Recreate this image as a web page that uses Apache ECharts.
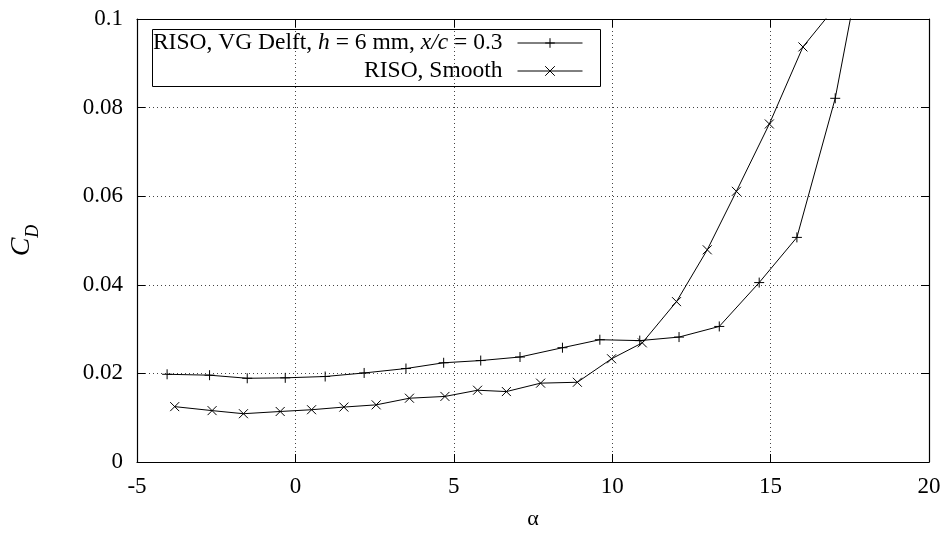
<!DOCTYPE html>
<html>
<head>
<meta charset="utf-8">
<script src="https://cdn.jsdelivr.net/npm/echarts@6/dist/echarts.min.js"></script>
<style>html,body{margin:0;padding:0;background:#fff;}#c{width:950px;height:535px;}</style>
</head>
<body>
<div id="c"></div>
<script>
// ---- data ----
const nameVG = 'RISO, VG Delft, h = 6 mm, x/c = 0.3';
const nameSmooth = 'RISO, Smooth';
const alphaVG = [-4.05,-2.71,-1.52,-0.32,0.94,2.17,3.49,4.68,5.85,7.09,8.43,9.61,10.87,12.11,13.38,14.64,15.83,17.04,18.2];
const cdVG    = [0.0198,0.0196,0.0189,0.0190,0.0193,0.0201,0.0211,0.0224,0.0229,0.0237,0.0258,0.0276,0.0274,0.0282,0.0306,0.0405,0.0507,0.0821,0.1256];
const alphaSmooth = [-3.81,-2.63,-1.64,-0.48,0.51,1.53,2.55,3.60,4.72,5.75,6.66,7.74,8.90,9.98,10.95,12.03,13.0,13.92,14.96,16.02,17.1];
const cdSmooth    = [0.0125,0.0116,0.0109,0.0114,0.0118,0.0124,0.0129,0.0144,0.0148,0.0162,0.0159,0.0178,0.0180,0.0233,0.0269,0.0362,0.0479,0.0611,0.0763,0.0937,0.1032];
const xTicks = {min: -5, max: 20, interval: 5};
const yTicks = {min: 0, max: 0.1, interval: 0.02};

const FONT = 'Liberation Serif';
const pair = (xs, ys) => xs.map((x, i) => [x, ys[i]]);
const plusPath = 'path://M0,5L10,5M5,0L5,10';
const crossPath = 'path://M0,0L10,10M0,10L10,0';

const chart = echarts.init(document.getElementById('c'), null, {renderer: 'canvas'});
const gridLine = {show: true, lineStyle: {color: '#444', width: 1, type: [1, 3]}};
const axisLine = {show: true, onZero: false, lineStyle: {color: '#000', width: 1.2}};
const tick = {show: true, inside: true, length: 8, lineStyle: {color: '#000', width: 1}};
const lblStyle = {fontFamily: FONT, fontSize: 23, color: '#000'};

const legendCommon = {
  orient: 'horizontal', align: 'right', right: 367, padding: 0,
  itemWidth: 65, itemHeight: 12,
  lineStyle: {width: 1, color: '#000'},
  itemStyle: {borderWidth: 1, borderColor: '#000', color: '#000'},
  textStyle: Object.assign({}, lblStyle, {fontSize: 23.5, padding: [0, 10, 0, 0],
    rich: {i: {fontFamily: FONT, fontSize: 23.5, fontStyle: 'italic', color: '#000'}}}),
  formatter: n => n === nameVG ? 'RISO, VG Delft, {i|h} = 6 mm, {i|x/c} = 0.3' : n
};

chart.setOption({
  animation: false,
  backgroundColor: '#fff',
  grid: {left: 135.5, right: 21, top: 19, bottom: 72, containLabel: false},
  legend: [
    Object.assign({}, legendCommon, {data: [nameVG], top: 31}),
    Object.assign({}, legendCommon, {data: [nameSmooth], top: 59})
  ],
  graphic: [{
    type: 'rect', left: 150, top: 27, z: 100,
    shape: {width: 448, height: 57},
    style: {fill: 'none', stroke: '#000', lineWidth: 1}
  }],
  xAxis: [{
    type: 'value', position: 'bottom', min: xTicks.min, max: xTicks.max, interval: xTicks.interval,
    axisLine: axisLine, axisTick: tick, splitLine: gridLine,
    axisLabel: Object.assign({margin: 13}, lblStyle),
    name: 'α', nameLocation: 'middle', nameGap: 46,
    nameTextStyle: {fontFamily: FONT, fontSize: 22, color: '#000'}
  }, {
    type: 'value', position: 'top', min: xTicks.min, max: xTicks.max, interval: xTicks.interval,
    axisLine: axisLine, axisTick: tick, splitLine: {show: false}, axisLabel: {show: false}
  }],
  yAxis: [{
    type: 'value', position: 'left', min: yTicks.min, max: yTicks.max, interval: yTicks.interval,
    axisLine: axisLine, axisTick: tick, splitLine: gridLine,
    axisLabel: Object.assign({margin: 14, formatter: v => String(+v.toFixed(2))}, lblStyle),
    name: '{c|C}{d|D}', nameLocation: 'middle', nameRotate: 90, nameGap: 95,
    nameTextStyle: {rich: {
      c: {fontFamily: FONT, fontSize: 28, fontStyle: 'italic', color: '#000', verticalAlign: 'top', padding: [0, 0, 6, 0]},
      d: {fontFamily: FONT, fontSize: 18, fontStyle: 'italic', color: '#000', verticalAlign: 'bottom'}
    }}
  }, {
    type: 'value', position: 'right', min: yTicks.min, max: yTicks.max, interval: yTicks.interval,
    axisLine: axisLine, axisTick: tick, splitLine: {show: false}, axisLabel: {show: false}
  }],
  series: [{
    name: nameVG, type: 'line', data: pair(alphaVG, cdVG), clip: true,
    symbol: plusPath, symbolSize: 10,
    itemStyle: {color: '#000', borderColor: '#000', borderWidth: 1},
    lineStyle: {color: '#000', width: 1}
  }, {
    name: nameSmooth, type: 'line', data: pair(alphaSmooth, cdSmooth), clip: true,
    symbol: crossPath, symbolSize: 9,
    itemStyle: {color: '#000', borderColor: '#000', borderWidth: 1},
    lineStyle: {color: '#000', width: 1}
  }]
});
</script>
</body>
</html>
